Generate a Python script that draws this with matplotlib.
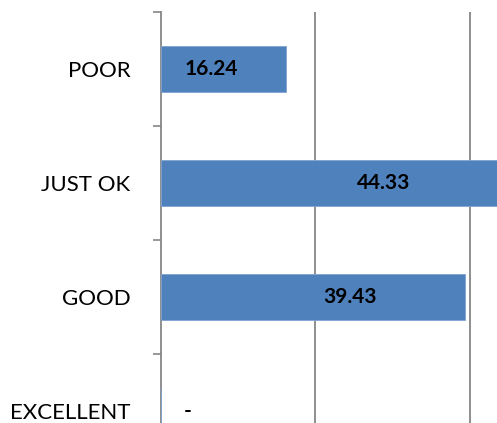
import matplotlib
matplotlib.use("Agg")
import matplotlib.pyplot as plt

categories = ["POOR", "JUST OK", "GOOD", "EXCELLENT"]
values = [16.24, 44.33, 39.43, 0.0]
labels = ["16.24", "44.33", "39.43", "-"]
label_x = [6.5, 28.8, 24.5, 3.4]

plt.rcParams['font.family'] = ['Lato', 'DejaVu Sans']

W, H = 497, 423
fig = plt.figure(figsize=(W / 100, H / 100), dpi=100)
left_px, top_px, bottom_px = 161, 12, 468
ax = fig.add_axes([left_px / W, (H - bottom_px) / H, (W - left_px) / W, (bottom_px - top_px) / H])

px_per_unit = 7.72
ax.set_xlim(0, (W - left_px) / px_per_unit)
ax.set_ylim(3.5, -0.5)

ypos = list(range(len(categories)))
ax.barh(ypos, values, height=0.4, color="#4F81BD", edgecolor="#7FA3D0", linewidth=0.6, zorder=3)

for y, lx, t in zip(ypos, label_x, labels):
    ax.text(lx, y, t, ha="center", va="center", fontsize=15, fontweight="bold", color="black", zorder=4)

ax.set_yticks(ypos)
ax.set_yticklabels(categories, fontsize=16)
ax.tick_params(axis="y", which="major", length=0, pad=22)
ax.set_yticks([-0.5, 0.5, 1.5, 2.5], minor=True)
ax.tick_params(axis="y", which="minor", length=6, width=1.2, color="#868686")

ax.set_xticks([20, 40])
ax.tick_params(axis="x", length=0, labelbottom=False)
ax.grid(axis="x", color="#868686", linewidth=1.3, zorder=0)

for s in ["top", "right", "bottom"]:
    ax.spines[s].set_visible(False)
ax.spines["left"].set_color("#868686")
ax.spines["left"].set_linewidth(1.3)

fig.savefig("out.png", dpi=100)
